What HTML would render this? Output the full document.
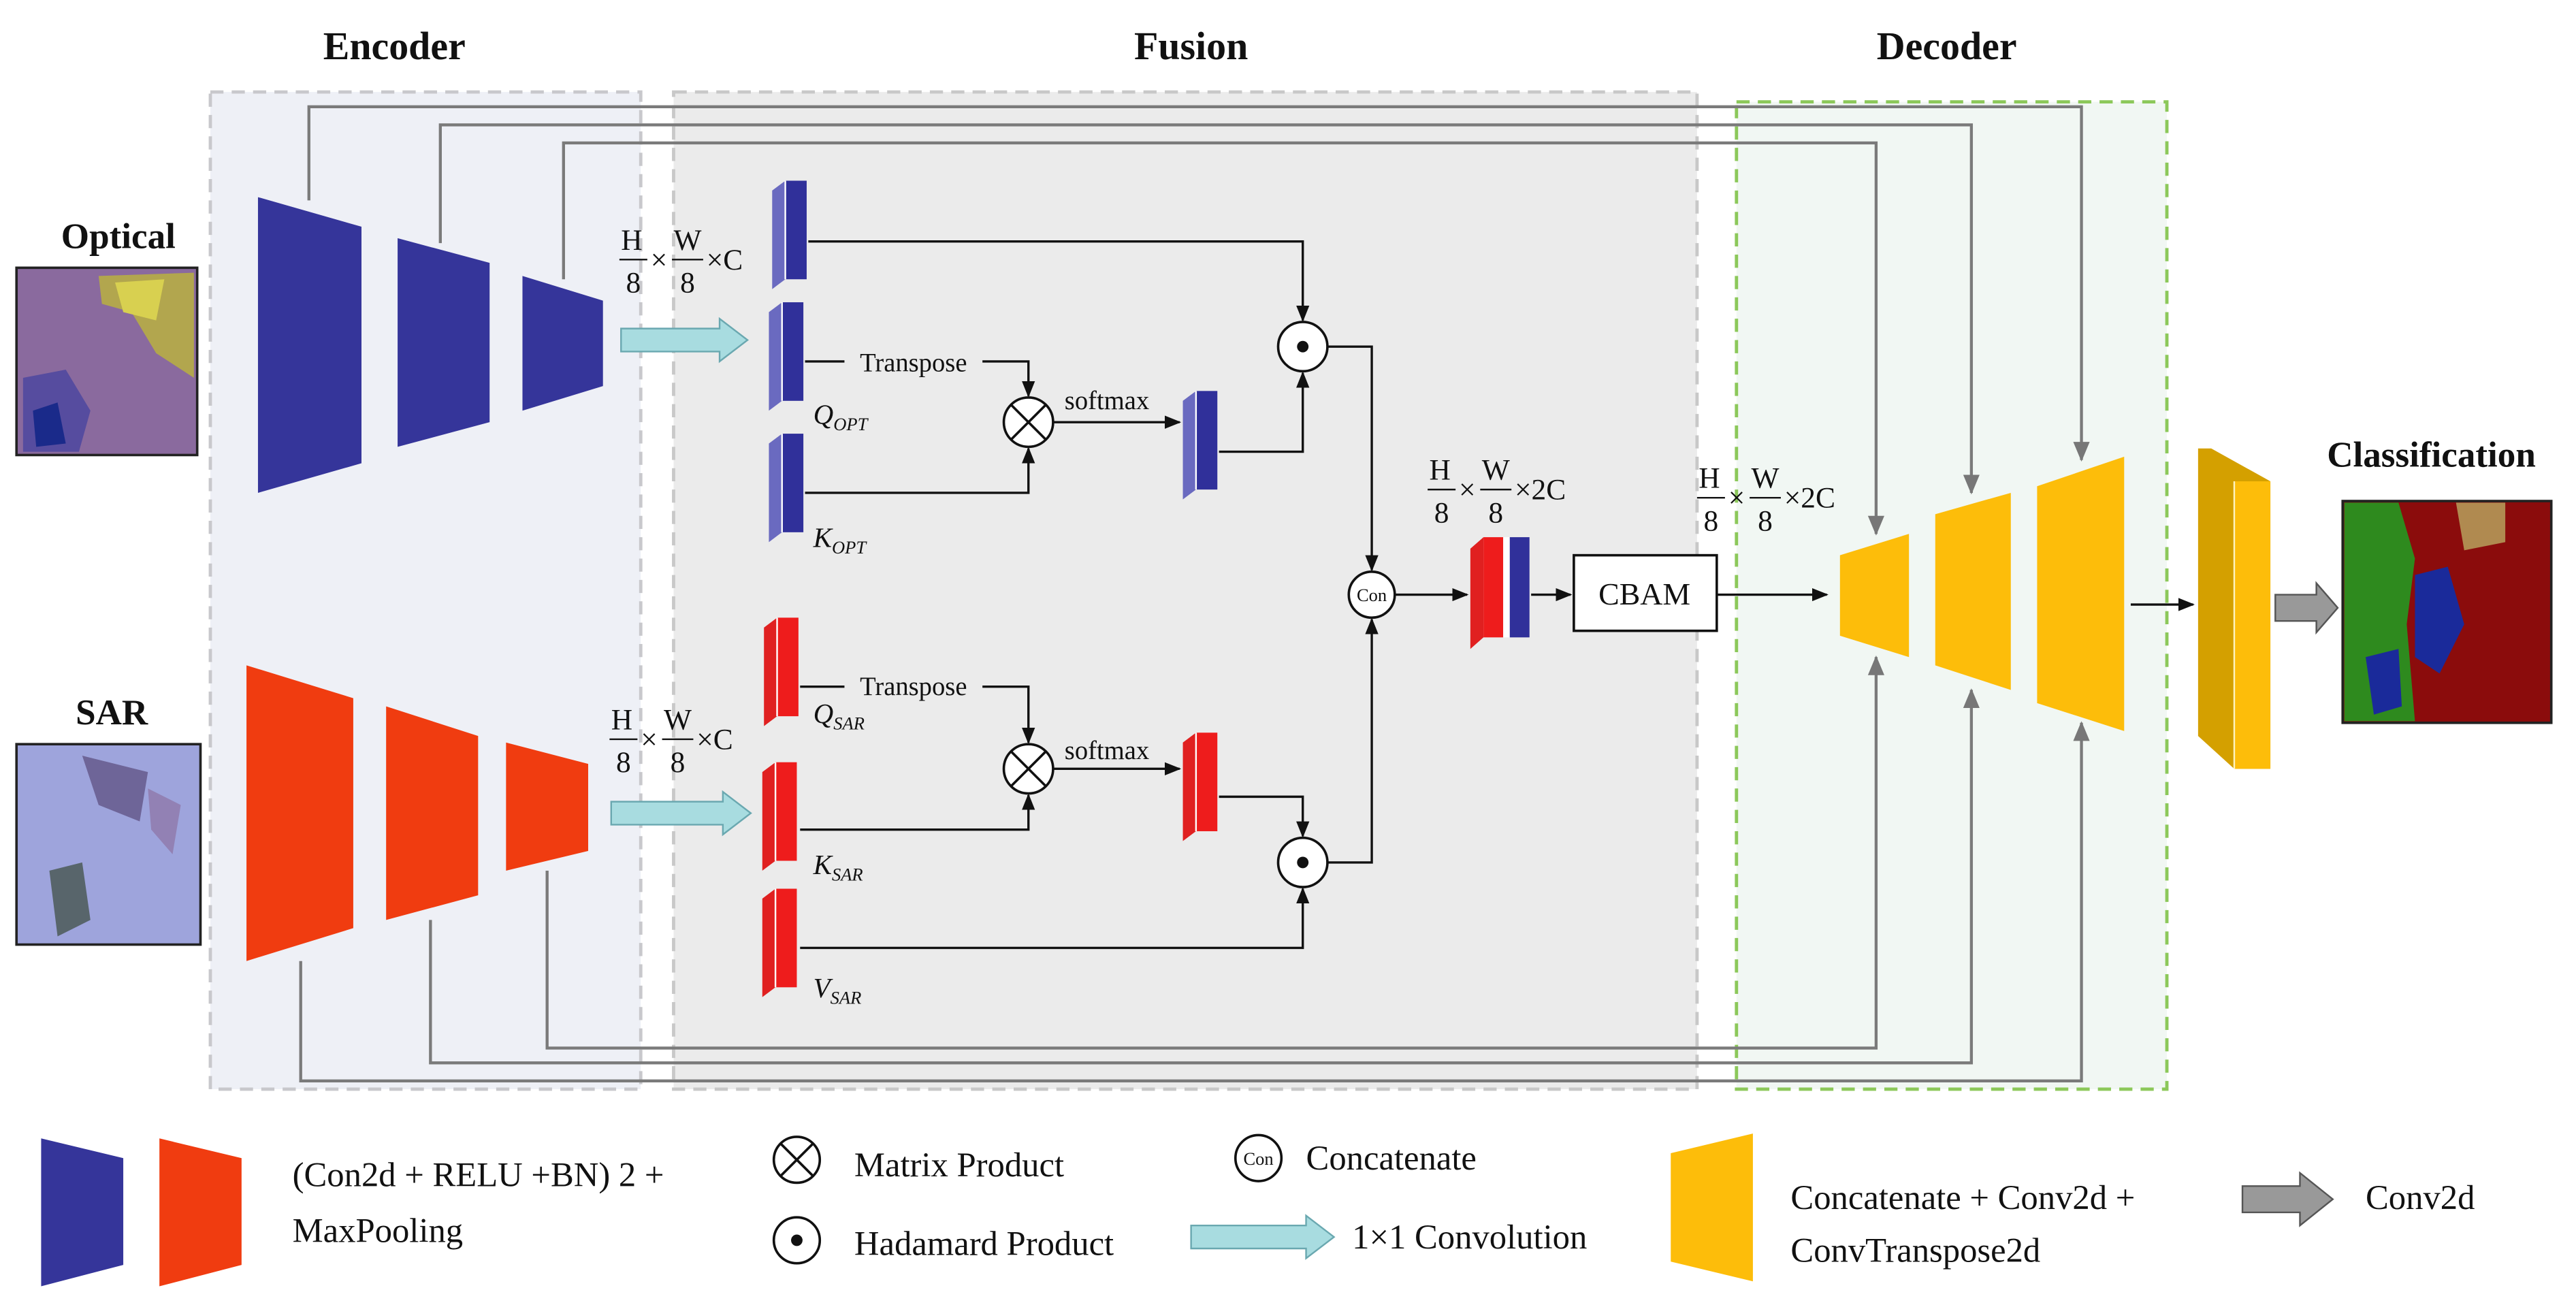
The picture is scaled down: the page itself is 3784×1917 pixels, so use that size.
<!DOCTYPE html>
<html><head><meta charset="utf-8"><style>
html,body{margin:0;padding:0;background:#fff;}
svg{display:block;}
text{font-family:"Liberation Serif",serif;fill:#111;}
</style></head><body>
<svg width="3784" height="1917" viewBox="0 0 1568 794.4" xmlns="http://www.w3.org/2000/svg">
<defs>
<marker id="ab" markerWidth="10" markerHeight="10" refX="9" refY="5" orient="auto" markerUnits="userSpaceOnUse"><path d="M0,1 L10,5 L0,9 z" fill="#111"/></marker>
<marker id="ag" markerWidth="12" markerHeight="12" refX="11" refY="6" orient="auto" markerUnits="userSpaceOnUse"><path d="M0,1 L12,6 L0,11 z" fill="#777"/></marker>
<g id="bblk"><polygon points="0,6 8,0 8,60 0,66" fill="#6a6ac0"/><rect x="8" y="0" width="13" height="60" fill="#30309a"/><line x1="8" y1="0" x2="8" y2="60" stroke="#fff" stroke-width="1"/></g>
<g id="rblk"><polygon points="0,6 8,0 8,60 0,66" fill="#e02020"/><rect x="8" y="0" width="13" height="60" fill="#ee1c1c"/><line x1="8" y1="0" x2="8" y2="60" stroke="#fff" stroke-width="1"/></g>
</defs>

<rect x="128" y="56" width="262" height="607" fill="#eef0f6" stroke="#c8c8cc" stroke-width="2" stroke-dasharray="8,5"/>
<rect x="410" y="56" width="623" height="607" fill="#ebebeb" stroke="#c8c8c8" stroke-width="2" stroke-dasharray="8,5"/>
<rect x="1057" y="62" width="262" height="601" fill="#f1f7f3" stroke="#8cc85a" stroke-width="2" stroke-dasharray="8,5"/>

<text x="240" y="36" font-size="24" font-weight="bold" text-anchor="middle">Encoder</text>
<text x="725" y="36" font-size="24" font-weight="bold" text-anchor="middle">Fusion</text>
<text x="1185" y="36" font-size="24" font-weight="bold" text-anchor="middle">Decoder</text>
<text x="72" y="151" font-size="22" font-weight="bold" text-anchor="middle">Optical</text>
<text x="68" y="441" font-size="22" font-weight="bold" text-anchor="middle">SAR</text>
<text x="1480" y="284" font-size="22" font-weight="bold" text-anchor="middle">Classification</text>

<g fill="none" stroke="#7a7a7a" stroke-width="1.8">
<polyline points="188,122 188,65 1267,65 1267,280" marker-end="url(#ag)"/>
<polyline points="268,148 268,76 1200,76 1200,300" marker-end="url(#ag)"/>
<polyline points="343,170 343,87 1142,87 1142,325" marker-end="url(#ag)"/>
<polyline points="183,585 183,658 1267,658 1267,440" marker-end="url(#ag)"/>
<polyline points="262,560 262,647 1200,647 1200,420" marker-end="url(#ag)"/>
<polyline points="333,530 333,638 1142,638 1142,400" marker-end="url(#ag)"/>
</g>

<rect x="10" y="163" width="110" height="114" fill="#8a6a9e" stroke="#222" stroke-width="1.5"/>
<path d="M60,168 L118,166 L118,230 L95,215 L80,190 L62,185z" fill="#b8b040" opacity="0.85"/>
<path d="M70,172 L100,170 L95,195 L75,190z" fill="#d8d050"/>
<path d="M14,230 L40,225 L55,250 L48,275 L14,275z" fill="#4040a0" opacity="0.7"/>
<path d="M20,250 L35,245 L40,270 L22,272z" fill="#1a2a8a"/>
<rect x="10" y="453" width="112" height="122" fill="#9ea4dc" stroke="#222" stroke-width="1.5"/>
<path d="M50,460 L90,470 L85,500 L60,490z" fill="#5a4a7a" opacity="0.7"/>
<path d="M30,530 L50,525 L55,560 L35,570z" fill="#3a4a3a" opacity="0.7"/>
<path d="M90,480 L110,490 L105,520 L92,505z" fill="#8a6a9a" opacity="0.6"/>
<rect x="1426" y="305" width="127" height="135" fill="#8b0c0c" stroke="#222" stroke-width="1.5"/>
<path d="M1427,306 L1460,306 L1470,340 L1465,380 L1470,439 L1427,439z" fill="#2e8a1e"/>
<path d="M1470,350 L1490,345 L1500,380 L1485,410 L1470,400z" fill="#1a2a9a"/>
<path d="M1440,400 L1460,395 L1462,430 L1445,435z" fill="#1a2a9a"/>
<path d="M1495,306 L1525,306 L1525,330 L1500,335z" fill="#b08a50"/>

<polygon points="157,120 220,138 220,282 157,300" fill="#35359a"/>
<polygon points="242,145 298,160 298,257 242,272" fill="#35359a"/>
<polygon points="318,168 367,183 367,235 318,250" fill="#35359a"/>
<polygon points="150,405 215,425 215,565 150,585" fill="#f03c10"/>
<polygon points="235,430 291,448 291,545 235,560" fill="#f03c10"/>
<polygon points="308,452 358,465 358,518 308,530" fill="#f03c10"/>

<polygon points="378,200 438,200 438,194 455,207 438,220 438,214 378,214" fill="#a8dce0" stroke="#6aa8b0" stroke-width="1"/>
<polygon points="372,488 440,488 440,482 457,495 440,508 440,502 372,502" fill="#a8dce0" stroke="#6aa8b0" stroke-width="1"/>

<g font-size="18">
<text x="378" y="152">H</text><line x1="377" y1="158" x2="394" y2="158" stroke="#111"/><text x="381" y="178">8</text><text x="396" y="164">×</text>
<text x="410" y="152">W</text><line x1="409" y1="158" x2="428" y2="158" stroke="#111"/><text x="414" y="178">8</text><text x="430" y="164">×C</text>
<text x="372" y="444">H</text><line x1="371" y1="450" x2="388" y2="450" stroke="#111"/><text x="375" y="470">8</text><text x="390" y="456">×</text>
<text x="404" y="444">W</text><line x1="403" y1="450" x2="422" y2="450" stroke="#111"/><text x="408" y="470">8</text><text x="424" y="456">×C</text>
<text x="870" y="292">H</text><line x1="869" y1="298" x2="886" y2="298" stroke="#111"/><text x="873" y="318">8</text><text x="888" y="304">×</text>
<text x="902" y="292">W</text><line x1="901" y1="298" x2="920" y2="298" stroke="#111"/><text x="906" y="318">8</text><text x="922" y="304">×2C</text>
<text x="1034" y="297">H</text><line x1="1033" y1="303" x2="1050" y2="303" stroke="#111"/><text x="1037" y="323">8</text><text x="1052" y="309">×</text>
<text x="1066" y="297">W</text><line x1="1065" y1="303" x2="1084" y2="303" stroke="#111"/><text x="1070" y="323">8</text><text x="1086" y="309">×2C</text>
</g>

<use href="#bblk" x="470" y="110"/>
<use href="#bblk" x="468" y="184"/>
<use href="#bblk" x="468" y="264"/>
<use href="#bblk" x="720" y="238"/>
<use href="#rblk" x="465" y="376"/>
<use href="#rblk" x="464" y="464"/>
<use href="#rblk" x="464" y="541"/>
<use href="#rblk" x="720" y="446"/>

<g font-size="17" font-style="italic">
<text x="495" y="258">Q<tspan font-size="11" dy="4">OPT</tspan></text>
<text x="495" y="333">K<tspan font-size="11" dy="4">OPT</tspan></text>
<text x="495" y="440">Q<tspan font-size="11" dy="4">SAR</tspan></text>
<text x="495" y="532">K<tspan font-size="11" dy="4">SAR</tspan></text>
<text x="495" y="607">V<tspan font-size="11" dy="4">SAR</tspan></text>
</g>

<g fill="none" stroke="#111" stroke-width="1.4">
<polyline points="492,147 793,147 793,195" marker-end="url(#ab)"/>
<polyline points="490,220 514,220"/>
<polyline points="598,220 626,220 626,241" marker-end="url(#ab)"/>
<polyline points="490,300 626,300 626,273" marker-end="url(#ab)"/>
<polyline points="641,257 718,257" marker-end="url(#ab)"/>
<polyline points="742,275 793,275 793,227" marker-end="url(#ab)"/>
<polyline points="808,211 835,211 835,347" marker-end="url(#ab)"/>
<polyline points="487,418 514,418"/>
<polyline points="598,418 626,418 626,452" marker-end="url(#ab)"/>
<polyline points="487,505 626,505 626,484" marker-end="url(#ab)"/>
<polyline points="641,468 718,468" marker-end="url(#ab)"/>
<polyline points="742,485 793,485 793,509" marker-end="url(#ab)"/>
<polyline points="487,577 793,577 793,541" marker-end="url(#ab)"/>
<polyline points="808,525 835,525 835,377" marker-end="url(#ab)"/>
<polyline points="849,362 893,362" marker-end="url(#ab)"/>
<polyline points="932,362 956,362" marker-end="url(#ab)"/>
<polyline points="1045,362 1112,362" marker-end="url(#ab)"/>
<polyline points="1297,368 1335,368" marker-end="url(#ab)"/>
</g>
<g font-size="16">
<text x="556" y="226" text-anchor="middle">Transpose</text>
<text x="556" y="423" text-anchor="middle">Transpose</text>
<text x="648" y="249">softmax</text>
<text x="648" y="462">softmax</text>
</g>
<g fill="#fff" stroke="#111" stroke-width="1.5">
<circle cx="793" cy="211" r="15"/><circle cx="626" cy="257" r="15"/>
<circle cx="626" cy="468" r="15"/><circle cx="793" cy="525" r="15"/>
<circle cx="835" cy="362" r="14"/>
</g>
<g stroke="#111" stroke-width="1.5">
<line x1="615" y1="246" x2="637" y2="268"/><line x1="637" y1="246" x2="615" y2="268"/>
<line x1="615" y1="457" x2="637" y2="479"/><line x1="637" y1="457" x2="615" y2="479"/>
</g>
<circle cx="793" cy="211" r="3.5" fill="#111"/><circle cx="793" cy="525" r="3.5" fill="#111"/>
<text x="835" y="366" font-size="11" text-anchor="middle">Con</text>

<polygon points="895,334 903,327 903,388 895,395" fill="#e02020"/>
<rect x="903" y="327" width="12" height="61" fill="#ee1c1c"/>
<rect x="915" y="327" width="4" height="61" fill="#fff"/>
<rect x="919" y="327" width="12" height="61" fill="#30309a"/>
<rect x="958" y="338" width="87" height="46" fill="#fff" stroke="#111" stroke-width="1.5"/>
<text x="1001" y="368" font-size="19" text-anchor="middle">CBAM</text>

<polygon points="1120,338 1162,325 1162,400 1120,387" fill="#fdbd0a"/>
<polygon points="1178,313 1224,300 1224,420 1178,405" fill="#fdbd0a"/>
<polygon points="1240,296 1293,278 1293,445 1240,428" fill="#fdbd0a"/>
<polygon points="1338,273 1346,273 1382,293 1382,468 1360,468 1338,448" fill="#d4a000"/>
<rect x="1360" y="293" width="22" height="175" fill="#fdbd0a"/>
<line x1="1360" y1="293" x2="1360" y2="468" stroke="#fff3c0" stroke-width="1"/>
<polygon points="1385,362 1410,362 1410,355 1423,370 1410,385 1410,378 1385,378" fill="#999" stroke="#555" stroke-width="1"/>

<polygon points="25,693 75,705 75,770 25,783" fill="#35359a"/>
<polygon points="97,693 147,705 147,770 97,783" fill="#f03c10"/>
<g font-size="21">
<text x="178" y="722">(Con2d + RELU +BN) 2 +</text>
<text x="178" y="756">MaxPooling</text>
<text x="520" y="716">Matrix Product</text>
<text x="520" y="764">Hadamard Product</text>
<text x="795" y="712">Concatenate</text>
<text x="823" y="760">1×1 Convolution</text>
<text x="1090" y="736">Concatenate + Conv2d +</text>
<text x="1090" y="768">ConvTranspose2d</text>
<text x="1440" y="736">Conv2d</text>
</g>
<g fill="#fff" stroke="#111" stroke-width="1.5">
<circle cx="485" cy="706" r="14"/><circle cx="485" cy="755" r="14"/><circle cx="766" cy="705" r="14"/>
</g>
<g stroke="#111" stroke-width="1.5"><line x1="475" y1="696" x2="495" y2="716"/><line x1="495" y1="696" x2="475" y2="716"/></g>
<circle cx="485" cy="755" r="3.5" fill="#111"/>
<text x="766" y="709" font-size="11" text-anchor="middle">Con</text>
<polygon points="725,746 795,746 795,740 812,753 795,766 795,760 725,760" fill="#a8dce0" stroke="#6aa8b0" stroke-width="1"/>
<polygon points="1017,702 1067,690 1067,780 1017,768" fill="#fdbd0a"/>
<polygon points="1365,722 1400,722 1400,714 1420,730 1400,746 1400,738 1365,738" fill="#999" stroke="#555" stroke-width="1"/>
</svg>
</body></html>
